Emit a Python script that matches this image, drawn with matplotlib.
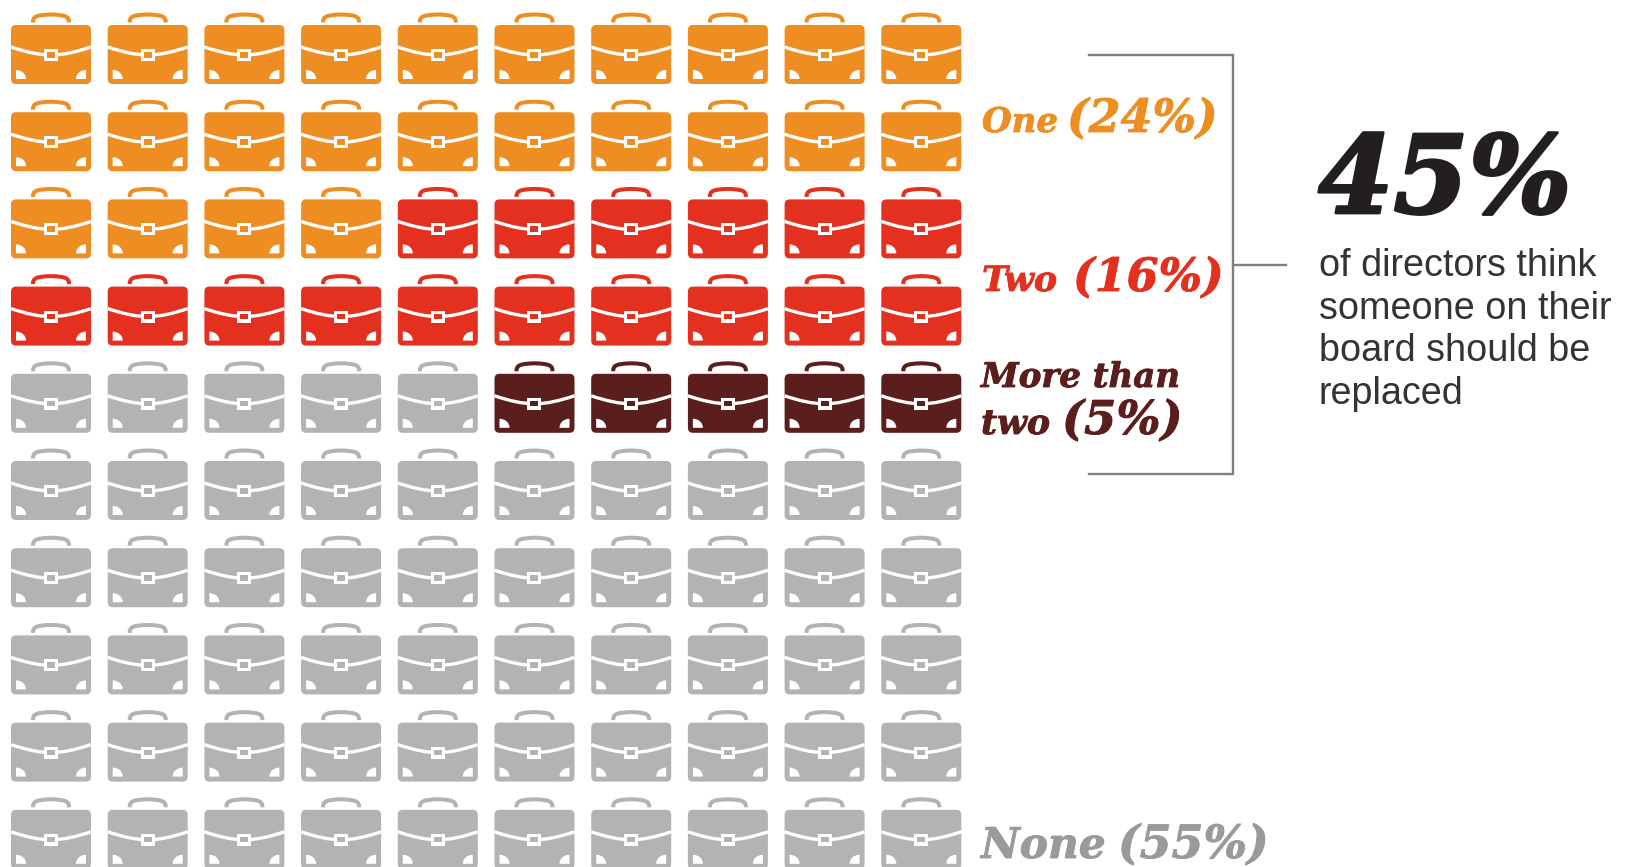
import matplotlib
import matplotlib.pyplot as plt
import matplotlib.patheffects as pe
from matplotlib.patches import FancyBboxPatch, PathPatch, Rectangle
from matplotlib.path import Path
from matplotlib.transforms import Affine2D

matplotlib.use("Agg")

# share of directors, one briefcase = 1%
categories = ["One", "Two", "More than two", "None"]
counts = [24, 16, 5, 55]
colors = ["#EE8E22", "#E3301F", "#5A1F1D", "#B3B3B3"]
none_before_more = 5  # row 5 starts with grey cases, dark ones come after

# filling order of the grid
order = [(0, counts[0]), (1, counts[1]), (3, none_before_more), (2, counts[2]),
         (3, counts[3] - none_before_more)]
cells = []
for idx, n in order:
    cells += [idx] * n

big_number = "45%"
body_lines = ["of directors think", "someone on their", "board should be", "replaced"]

fg = plt.figure(figsize=(16.31, 8.67), dpi=100)
ax = fg.add_axes([0, 0, 1, 1])
ax.set_xlim(0, 1631)
ax.set_ylim(867, 0)
ax.axis("off")


def briefcase(x, y, col):
    tr = Affine2D().translate(x, y) + ax.transData
    # handle, a shallow dome
    h = Path([(22, -2.5), (22, -8), (24, -10), (40, -10.5), (56, -10), (58, -8), (58, -2.5)],
             [Path.MOVETO] + [Path.CURVE4] * 6)
    ax.add_patch(PathPatch(h, fc="none", ec=col, lw=2.9, capstyle="butt", transform=tr))
    # body
    ax.add_patch(FancyBboxPatch((4, 4), 72, 51, boxstyle="round,pad=4,rounding_size=5",
                                fc=col, ec="none", transform=tr))
    # strap
    s = Path([(0, 22), (15, 27), (28, 30), (40, 30), (52, 30), (65, 27), (80, 22)],
             [Path.MOVETO] + [Path.CURVE4] * 6)
    ax.add_patch(PathPatch(s, fc="none", ec="white", lw=2.4, transform=tr))
    # buckle
    ax.add_patch(Rectangle((33, 24), 14, 12, fc="white", ec="none", transform=tr))
    ax.add_patch(Rectangle((36, 27), 8, 5.5, fc=col, ec="none", transform=tr))
    # corner guards, curved on the inner side
    for sx in (5, 75):
        d = 1 if sx == 5 else -1
        pts = [(sx, 45), (sx + 6 * d, 45), (sx + 10 * d, 49), (sx + 10 * d, 54), (sx, 54), (sx, 45)]
        codes = [Path.MOVETO, Path.CURVE4, Path.CURVE4, Path.CURVE4, Path.LINETO, Path.CLOSEPOLY]
        ax.add_patch(PathPatch(Path(pts, codes), fc="white", ec="none", transform=tr))


for i, c in enumerate(cells):
    row, col = divmod(i, 10)
    briefcase(11 + col * 96.7, 25 + row * 87.2, colors[c])

# bracket
ax.plot([1089, 1233, 1233, 1089], [55, 55, 474, 474], color="#7F7F7F", lw=1.7,
        solid_joinstyle="miter")
ax.plot([1233, 1286], [265, 265], color="#7F7F7F", lw=1.7)


def label(x, y, s, col, size):
    t = ax.text(x, y, s, color=col, fontsize=size, family="DejaVu Serif", style="italic",
                weight="bold", va="baseline", ha="left")
    t.set_path_effects([pe.withStroke(linewidth=0.6, foreground=col)])
    return t


label(982, 132, categories[0], colors[0], 24.5)
label(1067, 132, "(24%)", colors[0], 33)
label(982, 291, categories[1], colors[1], 25)
label(1073, 291, "(16%)", colors[1], 33)
label(981, 387, "More than", colors[2], 24.5)
label(981, 434, "two", colors[2], 25)
label(1062, 434, "(5%)", colors[2], 33.5)
label(981, 858, categories[3], "#9A9A9A", 30.5)
label(1118, 858, "(55%)", "#9A9A9A", 33)

t = ax.text(1318, 213, big_number, color="#231F20", fontsize=78, family="DejaVu Serif",
            style="italic", weight="bold", va="baseline", ha="left")
t.set_path_effects([pe.withStroke(linewidth=2.0, foreground="#231F20")])

for i, line in enumerate(body_lines):
    ax.text(1319, 276 + i * 42.6, line, color="#333333", fontsize=27.2, family="Liberation Sans",
            va="baseline", ha="left")

plt.savefig("out.png", dpi=100)
